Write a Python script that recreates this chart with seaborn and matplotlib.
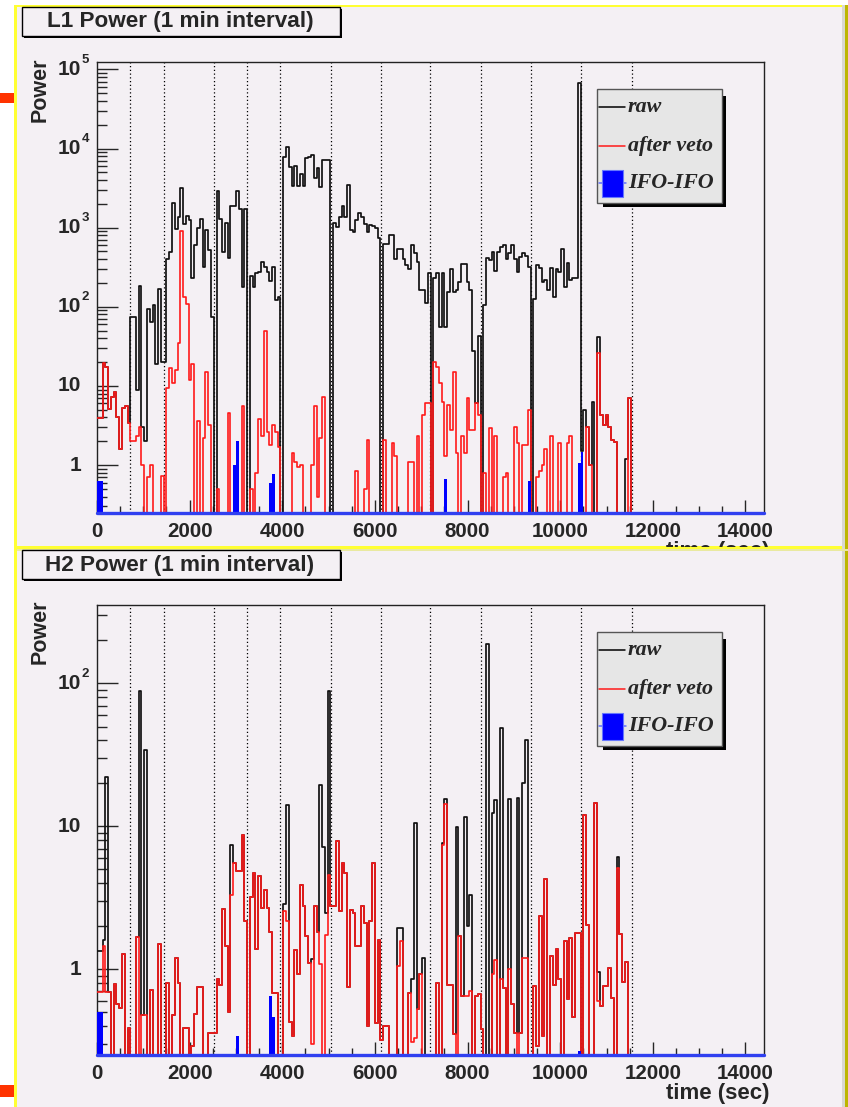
import numpy as np
import pandas as pd
import matplotlib
matplotlib.use("Agg")
import matplotlib.pyplot as plt
import seaborn as sns
from matplotlib.patches import Rectangle
from matplotlib.lines import Line2D
from matplotlib.ticker import LogLocator, NullFormatter, FixedLocator
from matplotlib.transforms import Bbox, TransformedBbox

# ---------------- data (60 s bins starting at t = 0) ----------------
BIN_WIDTH = 60

l1_raw = [
    3.9, 3.9, 19.6, 17.5, 5.1, 7.3, 8.3, 4.0, 1.6, 5.3,
    5.6, 3.4, 75, 75, 8.9, 184, 3, 2, 95, 64,
    105, 19, 170, 20, 20, 396, 495, 2060, 957, 1370,
    3125, 1097, 1410, 1245, 228, 601, 976, 1268, 314, 930,
    520, 75, 0, 2880, 1268, 495, 1150, 410, 1890, 1890,
    2880, 1700, 179, 1700, 0, 244, 179, 264, 276, 370,
    320, 276, 213, 320, 121, 134, 0, 7850, 10300, 5870,
    3340, 5980, 3340, 4830, 3340, 7690, 7850, 8240, 4180, 5590,
    3280, 7260, 7260, 7260, 0, 1130, 1030, 1370, 1890, 1370,
    3440, 930, 885, 1245, 1540, 1370, 1100, 885, 1080, 1040,
    980, 730, 0, 630, 630, 800, 800, 396, 545, 545,
    396, 336, 297, 600, 472, 370, 162, 162, 112, 264,
    0, 228, 264, 56, 264, 56, 155, 297, 155, 165,
    207, 352, 352, 207, 162, 28, 6, 43, 0, 105,
    410, 390, 495, 285, 495, 572, 600, 396, 472, 600,
    396, 276, 430, 472, 440, 320, 0, 127, 336, 305,
    207, 217, 162, 305, 134, 297, 276, 530, 179, 360,
    217, 228, 228, 67600, 1.5, 5, 3, 1.0, 6.3, 0,
    41.8, 4.3, 3.2, 4.3, 3.05, 2.07, 1.97, 0, 0, 0,
    1.2, 7, 0, 0,
]
l1_veto = [
    3.9, 3.9, 19.6, 17.5, 5.1, 7.3, 8.3, 4.0, 1.6, 5.3,
    5.6, 3.4, 2.0, 2.0, 2.3, 3.05, 1.0, 0, 0.7, 1.0,
    0, 0, 0, 0.73, 0, 9.3, 16.6, 11, 16.1, 34.4,
    913, 131, 107, 11.8, 18.9, 0, 3.6, 0, 2.2, 15,
    3.2, 0, 0, 0.5, 0, 0, 0, 4.6, 0, 0,
    0, 0, 5.5, 0, 0, 0.5, 0, 0.8, 3.8, 2.3,
    50, 2.6, 1.8, 3.2, 2.6, 1.7, 0, 0, 0, 0,
    1.4, 1.1, 0.95, 1.0, 0, 0, 0, 1.0, 5.5, 0.4,
    2.2, 7.3, 0, 0, 0, 0, 0, 0, 0, 0,
    0, 0, 0, 0.85, 0, 0, 0.5, 2.1, 0, 0,
    0, 0, 0, 2.1, 0, 0, 1.9, 1.3, 0, 0,
    0, 0, 1.1, 1.1, 0, 2.3, 0, 4.3, 6, 6,
    0, 20, 17.5, 11, 6.2, 1.3, 5.8, 2.8, 15, 1.4,
    0, 2.3, 1.4, 7.1, 2.8, 2.8, 6, 4.3, 0, 0.8,
    0, 2.9, 0, 2.3, 0, 0, 0.7, 0.8, 0, 0,
    3.0, 1.9, 0, 1.8, 1.8, 5, 0, 0, 0.7, 0.85,
    1.0, 1.6, 0, 2.3, 0, 0, 1.9, 0, 0, 1.9,
    2.3, 0, 0, 0, 0, 0, 3.0, 1.0, 0, 0,
    25.7, 4.3, 3.2, 4.3, 3.05, 2.07, 1.97, 0, 0, 0,
    0, 7, 0, 0,
]
l1_ifo_bins = [0, 1, 49, 50, 62, 63, 125, 155, 173, 174]
l1_ifo_vals = [0.62, 0.62, 1.0, 2.0, 0.6, 0.76, 0.66, 0.63, 1.05, 1.47]

h2_raw = [
    1.34, 1.34, 1.6, 22, 0.69, 0, 0.79, 0.57, 0.54, 1.27,
    0, 0.39, 0, 0, 1.68, 89, 0.48, 34.5, 0, 0.72,
    0, 0, 1.5, 0, 0, 0.8, 0, 0.48, 1.19, 0.8,
    0, 0.39, 0.39, 0, 0.29, 0.49, 0.75, 0.75, 0, 0,
    0.36, 0.36, 0.36, 0.86, 0.78, 2.64, 1.45, 0.5, 7.4, 5.54,
    4.85, 4.85, 8.74, 2.17, 0, 3.19, 4.71, 1.39, 4.47, 2.69,
    3.6, 2.69, 1.81, 0.68, 0.68, 0, 0, 2.88, 14.1, 0.43,
    0.34, 1.36, 0.92, 3.9, 2.76, 1.7, 1.11, 1.18, 2.76, 1.81,
    19.6, 7.2, 2.48, 89, 2.76, 2.76, 7.86, 2.54, 5.54, 4.71,
    0.75, 2.61, 2.48, 1.46, 1.46, 2.76, 2.11, 0.4, 2.17, 5.54,
    0.42, 1.6, 0.32, 0.4, 0.4, 0, 0, 0, 1.95, 1.95,
    0, 0, 0.68, 0.85, 10.6, 0.53, 0.93, 1.2, 0, 0,
    0, 0, 0.8, 0, 7.7, 15.6, 0.78, 0.78, 0.35, 9.9,
    1.72, 0.65, 11.6, 2.0, 3.3, 0, 0.65, 0.67, 0.38, 0,
    188, 0, 12.4, 15.4, 0, 48.5, 0.74, 0, 15.6, 0.57,
    0.36, 15.7, 0.36, 20, 40.3, 0, 0, 0.76, 0.29, 2.37,
    0.34, 4.3, 0, 1.23, 0.78, 1.39, 0.85, 0, 1.57, 0.62,
    1.65, 0.46, 1.8, 1.8, 0, 12.1, 2.05, 0, 0, 14.5,
    0.95, 0.55, 0.76, 0.76, 1.02, 0.63, 0, 6.1, 1.77, 0.82,
    1.13, 0, 0, 0,
]
h2_veto = [
    0.69, 0.69, 1.45, 0.69, 0.69, 0, 0.79, 0.57, 0.54, 1.27,
    0, 0.39, 0, 0, 1.68, 0, 0.48, 0.48, 0, 0.72,
    0, 0, 1.5, 0, 0, 0.8, 0, 0.48, 1.19, 0.8,
    0, 0.39, 0.39, 0, 0.29, 0.49, 0.75, 0.75, 0, 0,
    0.36, 0.36, 0.36, 0.86, 0.78, 2.64, 1.45, 0.5, 3.33, 5.54,
    4.85, 4.85, 8.74, 2.17, 0, 3.19, 4.71, 1.39, 4.47, 2.69,
    3.6, 2.69, 1.81, 0.68, 0.68, 0, 0, 2.54, 2.17, 0.43,
    0.34, 1.36, 0.92, 3.9, 2.76, 1.7, 1.11, 0.3, 2.76, 1.81,
    1.08, 0, 1.75, 4.59, 2.76, 2.76, 7.86, 2.54, 5.54, 4.71,
    0.75, 2.61, 2.48, 1.46, 1.46, 2.76, 2.11, 0.4, 2.17, 5.54,
    0.42, 1.6, 0.32, 0.4, 0.4, 0, 0, 0, 1.05, 1.57,
    0, 0, 0.68, 0.31, 0.33, 0.53, 0.93, 0, 0, 0,
    0, 0, 0.8, 0, 7.4, 14.3, 0.78, 0.78, 0.35, 0,
    1.72, 0.65, 0.65, 0.65, 0.7, 0, 0.65, 0.67, 0.38, 0,
    0, 0, 0.92, 1.17, 0, 0.86, 0.74, 0, 1.0, 0.57,
    0.36, 0, 0.36, 1.19, 1.19, 0, 0, 0.76, 0.29, 2.37,
    0.34, 4.3, 0, 1.23, 0.78, 1.39, 0.85, 0, 1.57, 0.62,
    1.65, 0.46, 1.8, 1.8, 0, 12.1, 2.05, 0, 0, 14.5,
    0.6, 0.55, 0.76, 0.76, 1.02, 0.63, 0, 5.1, 1.77, 0.82,
    1.13, 0, 0, 0,
]
h2_ifo_bins = [0, 1, 50, 62, 63, 173]
h2_ifo_vals = [0.5, 0.5, 0.34, 0.65, 0.46, 0.27]

segment_bounds = [720, 1448, 2536, 3243, 3956, 5058, 6139, 7192, 8280, 9375, 10456, 11543]
x_ticks = [0, 2000, 4000, 6000, 8000, 10000, 12000, 14000]
x_max = 14400
panel_titles = ["L1 Power (1 min interval)", "H2 Power (1 min interval)"]
legend_labels = ["raw", "after veto", "IFO-IFO"]
y_label = "Power"
x_label = "time (sec)"

# ---------------- styling ----------------
W, H = 848, 1107
sns.set_style("white")
plt.rcParams["font.family"] = ["Liberation Sans", "DejaVu Sans"]
plt.rcParams["font.weight"] = "bold"

PAD_BG = "#F4F0F4"
fig = plt.figure(figsize=(W / 100, H / 100), dpi=100)
fig.patch.set_facecolor("white")


def fx(px):
    return px / W


def fy(py):
    return 1 - py / H


def frect(x0, y0, x1, y1, **kw):
    r = Rectangle((fx(x0), fy(y1)), fx(x1) - fx(x0), fy(y0) - fy(y1),
                  transform=fig.transFigure, **kw)
    fig.add_artist(r)
    return r


# pads
frect(14, 5, 848, 549, facecolor=PAD_BG, edgecolor="none", zorder=-10)
frect(14, 549, 848, 1107, facecolor=PAD_BG, edgecolor="none", zorder=-10)
for (a, b, c, d, col) in [
    (14, 5, 16.5, 549, "#FFFF33"), (14, 5, 848, 7, "#FFFF33"),
    (14, 546.5, 848, 549, "#FFFF33"), (14, 549, 848, 551, "#E9E9A0"),
    (14, 549, 16.5, 1107, "#FFFF33"),
    (842, 5, 845, 549, "#D8D8CF"), (845, 5, 848, 549, "#BDB600"),
    (842, 551, 845, 1107, "#D8D8CF"), (845, 551, 848, 1107, "#BDB600"),
    (0, 93, 14, 103, "#FF3300"), (0, 1085, 14, 1097, "#FF3300"),
]:
    frect(a, b, c, d, facecolor=col, edgecolor="none", zorder=-9)

ax_top = fig.add_axes([fx(97), fy(512.7), fx(764) - fx(97), fy(61.7) - fy(512.7)])
ax_bot = fig.add_axes([fx(97), fy(1055.3), fx(764) - fx(97), fy(604.7) - fy(1055.3)])


def draw_panel(ax, raw, veto, ifo_bins, ifo_vals, ylo, yhi, kmax):
    n = len(raw)
    centers = np.arange(n) * BIN_WIDTH + BIN_WIDTH / 2
    ifo = np.zeros(n)
    ifo[ifo_bins] = ifo_vals
    df = pd.DataFrame({"t": centers, "raw": np.asarray(raw, float),
                       "veto": np.asarray(veto, float), "ifo": ifo})
    hist_kw = dict(data=df, x="t", binwidth=BIN_WIDTH, binrange=(0, n * BIN_WIDTH), ax=ax)
    ax.set_yscale("log")
    ax.set_facecolor("none")
    for b in segment_bounds:
        ax.axvline(b, color="black", lw=0.9, ls=(0, (1, 2)), zorder=1)
    sns.histplot(weights="raw", element="step", fill=False, color="#111111",
                 linewidth=1.25, zorder=3, **hist_kw)
    sns.histplot(weights="veto", element="step", fill=False, color="#FF1A1A",
                 linewidth=1.2, zorder=4, **hist_kw)
    sns.histplot(weights="ifo", element="bars", fill=True, color="#0000FF", alpha=1,
                 linewidth=0, zorder=5, **hist_kw)
    ax.plot([0, x_max], [ylo, ylo], color="#3040F0", lw=2.4, clip_on=False, zorder=6)
    ax.set_xlim(0, x_max)
    ax.set_ylim(ylo, yhi)
    ax.set_xlabel("")
    ax.set_ylabel("")
    for s in ax.spines.values():
        s.set_visible(True)
        s.set_color("#222222")
        s.set_linewidth(1.0)
    ax.set_xticks(x_ticks)
    ax.set_xticklabels([str(t) for t in x_ticks])
    ax.xaxis.set_minor_locator(FixedLocator(np.arange(0, x_max + 1, 500)))
    ax.tick_params(axis="x", which="major", direction="in", length=9.5, width=1,
                   pad=6.5, labelsize=14.8, bottom=True, top=False)
    ax.tick_params(axis="x", which="minor", direction="in", length=5, width=1,
                   bottom=True, top=False)
    ax.yaxis.set_major_locator(LogLocator(base=10, numticks=20))
    ax.yaxis.set_minor_locator(LogLocator(base=10, subs=np.arange(2, 10), numticks=100))
    ax.yaxis.set_minor_formatter(NullFormatter())
    ax.tick_params(axis="y", which="major", direction="in", length=15, width=1,
                   left=True, right=False, labelleft=False)
    ax.tick_params(axis="y", which="minor", direction="in", length=7.5, width=1,
                   left=True, right=False)
    for lab in ax.get_xticklabels():
        lab.set_fontweight("bold")
    trans = ax.get_yaxis_transform()
    for k in range(0, kmax + 1):
        v = 10.0 ** k
        base = "1" if k == 0 else "10"
        ax.annotate(base, xy=(0, v), xycoords=trans, xytext=(-11.5, 0),
                    textcoords="offset points", ha="right", va="center",
                    fontsize=15, fontweight="bold", annotation_clip=False)
        if k >= 2:
            ax.annotate(str(k), xy=(0, v), xycoords=trans, xytext=(-11.3, 7),
                        textcoords="offset points", ha="left", va="center",
                        fontsize=9.5, fontweight="bold", annotation_clip=False)


draw_panel(ax_top, l1_raw, l1_veto, l1_ifo_bins, l1_ifo_vals, 0.25, 1.25e5, 5)
draw_panel(ax_bot, h2_raw, h2_veto, h2_ifo_bins, h2_ifo_vals, 0.25, 356, 2)


def title_box(y0, text):
    frect(24, y0 + 2, 342, y0 + 31, facecolor="black", edgecolor="none", zorder=5)
    frect(22, y0, 340, y0 + 29, facecolor=PAD_BG, edgecolor="black", lw=1, zorder=6)
    fig.text(fx(180), fy(y0 + 15), text, ha="center", va="center", fontsize=16.2,
             fontweight="bold", zorder=7)


title_box(7, panel_titles[0])
title_box(550, panel_titles[1])


def legend_box(top):
    frect(603, top + 7, 726, top + 118, facecolor="black", edgecolor="none", zorder=5)
    frect(597, top, 722, top + 114, facecolor="#E6E6E6", edgecolor="#555555", lw=1, zorder=6)
    rows = [top + 18, top + 57, top + 94]
    fig.add_artist(Line2D([fx(599), fx(625)], [fy(rows[0])] * 2, color="black", lw=1.1,
                          transform=fig.transFigure, zorder=7))
    fig.add_artist(Line2D([fx(599), fx(625)], [fy(rows[1])] * 2, color="#FF1A1A", lw=1.1,
                          transform=fig.transFigure, zorder=7))
    fig.add_artist(Line2D([fx(599), fx(626)], [fy(rows[2])] * 2, color="#6070FF", lw=1.1,
                          transform=fig.transFigure, zorder=7))
    frect(602, rows[2] - 13, 623, rows[2] + 14, facecolor="#0000FF", edgecolor="#6677FF",
          lw=0.8, zorder=8)
    for lab, y in zip(legend_labels, rows):
        fig.text(fx(628), fy(y), lab, ha="left", va="center", fontsize=15.8,
                 family=["Liberation Serif", "DejaVu Serif"], style="italic",
                 fontweight="bold", zorder=9)


legend_box(89)
legend_box(632)

# axis titles
fig.text(fx(40), fy(90), y_label, rotation=90, ha="center", va="center",
         fontsize=15.5, fontweight="bold")
fig.text(fx(40), fy(632), y_label, rotation=90, ha="center", va="center",
         fontsize=15.5, fontweight="bold")
t_top = fig.text(fx(769), fy(551), x_label, ha="right", va="center",
                 fontsize=16, fontweight="bold")
t_top.set_clip_box(TransformedBbox(Bbox([[0, fy(547)], [1, 1]]), fig.transFigure))
t_top.set_clip_on(True)
fig.text(fx(769), fy(1093), x_label, ha="right", va="center",
         fontsize=16, fontweight="bold")

fig.savefig("out.png", dpi=100, facecolor="white")
